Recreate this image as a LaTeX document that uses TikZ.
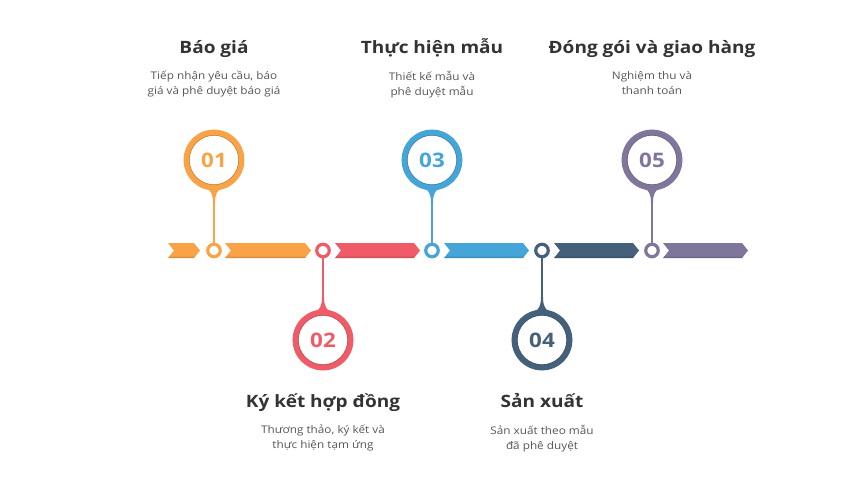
\documentclass[tikz,border=0pt]{standalone}
\usepackage{fontspec}
\setmainfont{Open Sans}[FakeStretch=1.12]
\definecolor{cOr}{HTML}{F9A346}
\definecolor{cRe}{HTML}{EF5B66}
\definecolor{cBl}{HTML}{45A5D8}
\definecolor{cDk}{HTML}{45607A}
\definecolor{cPu}{HTML}{80759A}
\definecolor{cTx}{HTML}{333333}
\definecolor{cSub}{HTML}{555555}
\tikzset{
  big/.style={circle,draw=#1,line width=6pt,fill=white,minimum size=55pt,inner sep=0pt,text=#1,font=\fontsize{20}{22}\selectfont\bfseries},
  ring/.style={circle,draw=#1,line width=3.2pt,fill=white,minimum size=12.5pt,inner sep=0pt},
  stem/.style={draw=#1,line width=2pt},
  ttl/.style={text=cTx,font=\fontsize{17}{20}\selectfont\bfseries,anchor=base},
  sub/.style={text=cSub,font=\fontsize{10.5}{15}\selectfont,align=center,anchor=north},
}
\newcommand{\chev}[3]{% color, x1, x2
  \fill[#1] (#2,243) -- (#3-6,243) -- (#3,250.5) -- (#3-6,258) -- (#2,258) -- (#2+6,250.5) -- cycle;
  \fill[black,opacity=0.12] (#2,256.6) -- (#3-4.6,256.6) -- (#3-6,258) -- (#2,258) -- (#2+1.4,256.6) -- cycle;
}
\newcommand{\neckup}[2]{% color, x : neck below circle at y 160
  \fill[#1] (#2-9,186) .. controls (#2-3,191) and (#2-1,194) .. (#2-1,203) -- (#2+1,203) .. controls (#2+1,194) and (#2+3,191) .. (#2+9,186) -- cycle;
}
\newcommand{\neckdn}[2]{% color, x : neck above circle at y 340
  \fill[#1] (#2-9,314) .. controls (#2-3,309) and (#2-1,306) .. (#2-1,297) -- (#2+1,297) .. controls (#2+1,306) and (#2+3,309) .. (#2+9,314) -- cycle;
}
\begin{document}
\begin{tikzpicture}[x=1pt,y=-1pt]
\useasboundingbox (0,0) rectangle (862,490);
% chevron bar
\chev{cOr}{168}{200}
\chev{cOr}{225}{311}
\chev{cRe}{335}{420}
\chev{cBl}{444}{529}
\chev{cDk}{554}{639}
\chev{cPu}{663}{748}
% stems
\coordinate (s1) at (214,190);
\coordinate (s2) at (323,310);
\coordinate (s3) at (432,190);
\coordinate (s4) at (542,310);
\coordinate (s5) at (652,190);
\node[ring=cOr] (r1) at (214,250.5) {};
\node[ring=cRe] (r2) at (323,250.5) {};
\node[ring=cBl] (r3) at (432,250.5) {};
\node[ring=cDk] (r4) at (542,250.5) {};
\node[ring=cPu] (r5) at (652,250.5) {};
\draw[stem=cOr] (s1) -- (r1);
\draw[stem=cRe] (s2) -- (r2);
\draw[stem=cBl] (s3) -- (r3);
\draw[stem=cDk] (s4) -- (r4);
\draw[stem=cPu] (s5) -- (r5);
\neckup{cOr}{214}
\neckdn{cRe}{323}
\neckup{cBl}{432}
\neckdn{cDk}{542}
\neckup{cPu}{652}
% big circles
\node[big=cOr] (c1) at (214,160) {01};
\node[big=cRe] (c2) at (323,340) {02};
\node[big=cBl] (c3) at (432,160) {03};
\node[big=cDk] (c4) at (542,340) {04};
\node[big=cPu] (c5) at (652,160) {05};
\foreach \p/\c in {c1/cOr,c2/cRe,c3/cBl,c4/cDk,c5/cPu}
  \draw[black,opacity=0.25,line width=0.6pt] (\p.center) circle (24.6);
% titles
\node[ttl] (t1) at (214,53) {Báo giá};
\node[ttl] (t3) at (432,53) {Thực hiện mẫu};
\node[ttl] (t5) at (652,53) {Đóng gói và giao hàng};
\node[ttl] (t2) at (323,407) {Ký kết hợp đồng};
\node[ttl] (t4) at (542,407) {Sản xuất};
% subtitles
\node[sub] (d1) at (214,67.5) {Tiếp nhận yêu cầu, báo\\giá và phê duyệt báo giá};
\node[sub] (d3) at (432,67.5) {Thiết kế mẫu và\\phê duyệt mẫu};
\node[sub] (d5) at (652,67.5) {Nghiệm thu và\\thanh toán};
\node[sub] (d2) at (323,421.5) {Thương thảo, ký kết và\\thực hiện tạm ứng};
\node[sub] (d4) at (542,421.5) {Sản xuất theo mẫu\\đã phê duyệt};
\end{tikzpicture}
\end{document}
